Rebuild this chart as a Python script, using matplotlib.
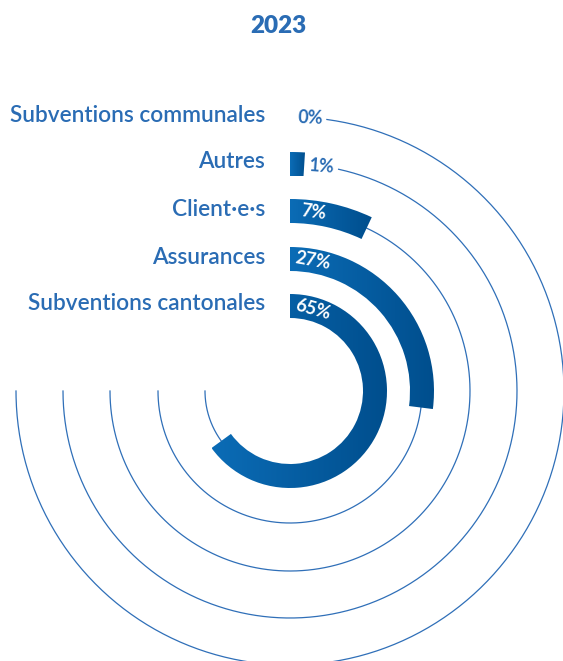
import numpy as np
import matplotlib.pyplot as plt
from matplotlib.patches import Wedge
from matplotlib.colors import LinearSegmentedColormap

# data (innermost ring first)
categories = ["Subventions cantonales", "Assurances", "Client·e·s", "Autres", "Subventions communales"]
shares = [65, 27, 7, 1, 0]
title = "2023"

W, H = 563, 661
cx, cy = 290, H - 391
radii = [85, 132, 180, 227, 274]
bar_w = 24
blue_txt = "#2a6cb4"
line_col = "#2f6fb8"
grad = LinearSegmentedColormap.from_list("g", ["#0b6cb6", "#004e8d"])

fig = plt.figure(figsize=(W / 100, H / 100), dpi=100)
ax = fig.add_axes([0, 0, 1, 1])
ax.set_xlim(0, W)
ax.set_ylim(0, H)
ax.set_aspect("equal")
ax.axis("off")

font = "Lato"


def pt(r, a_cw):
    # point on circle, angle in degrees clockwise from 12 o'clock
    a = np.radians(90 - a_cw)
    return cx + r * np.cos(a), cy + r * np.sin(a)


for r, cat, v in zip(radii, categories, shares):
    sweep = v * 3.6
    # thick bar with horizontal gradient
    if v > 0:
        w = Wedge((cx, cy), r + bar_w / 2, 90 - sweep, 90, width=bar_w, facecolor="none", edgecolor="none")
        ax.add_patch(w)
        ext = w.get_path().get_extents()
        g = np.linspace(0, 1, 256).reshape(1, -1)
        im = ax.imshow(g, cmap=grad, extent=[ext.x0, ext.x1, ext.y0, ext.y1], aspect="auto", zorder=2)
        im.set_clip_path(w)
    # value label
    if v >= 5:
        a = np.degrees(23 / r)
        x, y = pt(r, a)
        ax.text(x, y, f"{v}%", color="white", fontsize=13, fontweight="bold", family=font,
                ha="center", va="center", rotation=-a, zorder=3)
        start = sweep
    else:
        off = 20 if v == 0 else 32
        a = np.degrees(off / r)
        x, y = pt(r, a)
        ax.text(x, y, f"{v}%", color=blue_txt, fontsize=13, fontweight="bold", family=font,
                ha="center", va="center", rotation=-a * 0.5, zorder=3)
        start = np.degrees((off + 17) / r)
    # thin guide arc to 9 o'clock
    t = np.linspace(start, 270, 400)
    xs, ys = pt(r, t)
    ax.plot(xs, ys, color=line_col, lw=0.9, zorder=1)
    # category label
    ax.text(265, cy + r + 2, cat, color=blue_txt, fontsize=16.3, fontweight="semibold", family=font,
            ha="right", va="center")

ax.text(278, H - 26, title, color=blue_txt, fontsize=17.5, fontweight="heavy", family=font,
        ha="center", va="center")

fig.savefig("out.png", dpi=100)
